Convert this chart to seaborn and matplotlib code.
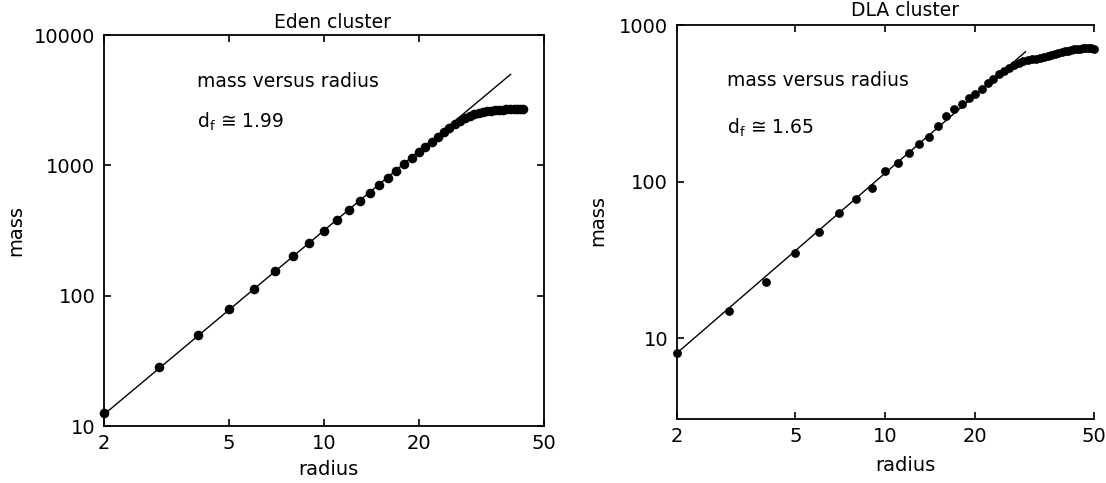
import matplotlib
matplotlib.use('Agg')
import matplotlib.pyplot as plt
import matplotlib.ticker as mticker
import pandas as pd
import seaborn as sns

# dados (raio x massa)
eden_radius = [2, 3, 4, 5, 6, 7, 8, 9, 10, 11,
               12, 13, 14, 15, 16, 17, 18, 19, 20, 21,
               22, 23, 24, 25, 26, 27, 28, 29, 30, 31,
               32, 33, 34, 35, 36, 37, 38, 39, 40, 41,
               42, 43]
eden_mass = [12.6, 28.3, 50, 79, 113, 154, 201, 254, 314, 380,
             452, 531, 616, 707, 804, 908, 1018, 1134, 1257, 1385,
             1520, 1660, 1800, 1940, 2080, 2200, 2310, 2400, 2470, 2520,
             2560, 2600, 2630, 2650, 2670, 2680, 2690, 2700, 2705, 2710,
             2710, 2710]

dla_radius = [2, 3, 4, 5, 6, 7, 8, 9, 10, 11,
              12, 13, 14, 15, 16, 17, 18, 19, 20, 21,
              22, 23, 24, 25, 26, 27, 28, 29, 30, 31,
              32, 33, 34, 35, 36, 37, 38, 39, 40, 41,
              42, 43, 44, 45, 46, 47, 48, 49, 50]
dla_mass = [8, 15, 23, 35, 48, 63, 78, 91, 117, 132,
            153, 175, 194, 227, 262, 290, 315, 340, 365, 390,
            425, 455, 485, 510, 535, 555, 570, 585, 595, 603,
            610, 618, 625, 633, 642, 650, 658, 668, 678, 686,
            694, 700, 704, 707, 709, 710, 710, 710, 708]

# retas de ajuste (extremos)
eden_fit_radius = [2, 39.2]
eden_fit_mass = [12.2, 5000]
dla_fit_radius = [2, 29.5]
dla_fit_mass = [8, 676]

x_ticks = [2, 5, 10, 20, 50]
eden_y_ticks = [10, 100, 1000, 10000]
dla_y_ticks = [10, 100, 1000]

sns.set_style('ticks')
plt.rcParams['font.family'] = ['DejaVu Sans']
plt.rcParams['text.color'] = 'black'

df_eden = pd.DataFrame({'radius': eden_radius, 'mass': eden_mass})
df_dla = pd.DataFrame({'radius': dla_radius, 'mass': dla_mass})

fig = plt.figure(figsize=(11.06, 4.83), dpi=100)
ax1 = fig.add_axes([0.0937, 0.118, 0.3982, 0.8095])
ax2 = fig.add_axes([0.6117, 0.1325, 0.3775, 0.8157])


def draw_panel(ax, df, fit_r, fit_m, yticks, ylim, title, title_x, title_y,
               df_text, text_x, text_y1, text_y2, size):
    sns.lineplot(x=fit_r, y=fit_m, ax=ax, color='black', linewidth=1.0)
    sns.scatterplot(x='radius', y='mass', data=df, ax=ax, color='black',
                    s=size, linewidth=0, zorder=3, clip_on=False)
    ax.set_xscale('log')
    ax.set_yscale('log')
    ax.set_xlim(2, 50)
    ax.set_ylim(ylim)
    ax.xaxis.set_major_locator(mticker.FixedLocator(x_ticks))
    ax.xaxis.set_major_formatter(mticker.FuncFormatter(lambda v, p: f'{v:g}'))
    ax.xaxis.set_minor_locator(mticker.NullLocator())
    ax.yaxis.set_major_locator(mticker.FixedLocator(yticks))
    ax.yaxis.set_major_formatter(mticker.FuncFormatter(lambda v, p: f'{v:g}'))
    ax.yaxis.set_minor_locator(mticker.NullLocator())
    ax.tick_params(direction='in', length=5, width=1.2, top=True, right=True,
                   labelsize=14, pad=6, colors='black')
    for sp in ax.spines.values():
        sp.set_color('black')
        sp.set_linewidth(1.3)
    ax.set_xlabel('')
    ax.set_ylabel('')
    ax.text(title_x, title_y, title, transform=ax.transAxes, ha='center',
            va='center', fontsize=13.5)
    ax.text(text_x, text_y1, 'mass versus radius', transform=ax.transAxes,
            ha='left', va='center', fontsize=13.5)
    ax.text(text_x, text_y2, r'd$_{\mathrm{f}}$ ≅ ' + df_text,
            transform=ax.transAxes, ha='left', va='center', fontsize=13.5)


draw_panel(ax1, df_eden, eden_fit_radius, eden_fit_mass, eden_y_ticks,
           (10, 10000), 'Eden cluster', 0.519, 1.031, '1.99', 0.213, 0.88,
           0.777, 48)
ax1.text(-0.199, 0.501, 'mass', rotation=90, transform=ax1.transAxes,
         ha='center', va='center', fontsize=14)
ax1.text(0.511, -0.1125, 'radius', transform=ax1.transAxes, ha='center',
         va='center', fontsize=14)

draw_panel(ax2, df_dla, dla_fit_radius, dla_fit_mass, dla_y_ticks,
           (3.05, 1000), 'DLA cluster', 0.547, 1.038, '1.65', 0.121, 0.86,
           0.739, 40)
ax2.spines['right'].set_visible(False)
ax2.tick_params(right=False)
ax2.text(-0.188, 0.505, 'mass', rotation=90, transform=ax2.transAxes,
         ha='center', va='center', fontsize=14)
ax2.text(0.547, -0.117, 'radius', transform=ax2.transAxes, ha='center',
         va='center', fontsize=14)

fig.savefig('out.png', dpi=100)
